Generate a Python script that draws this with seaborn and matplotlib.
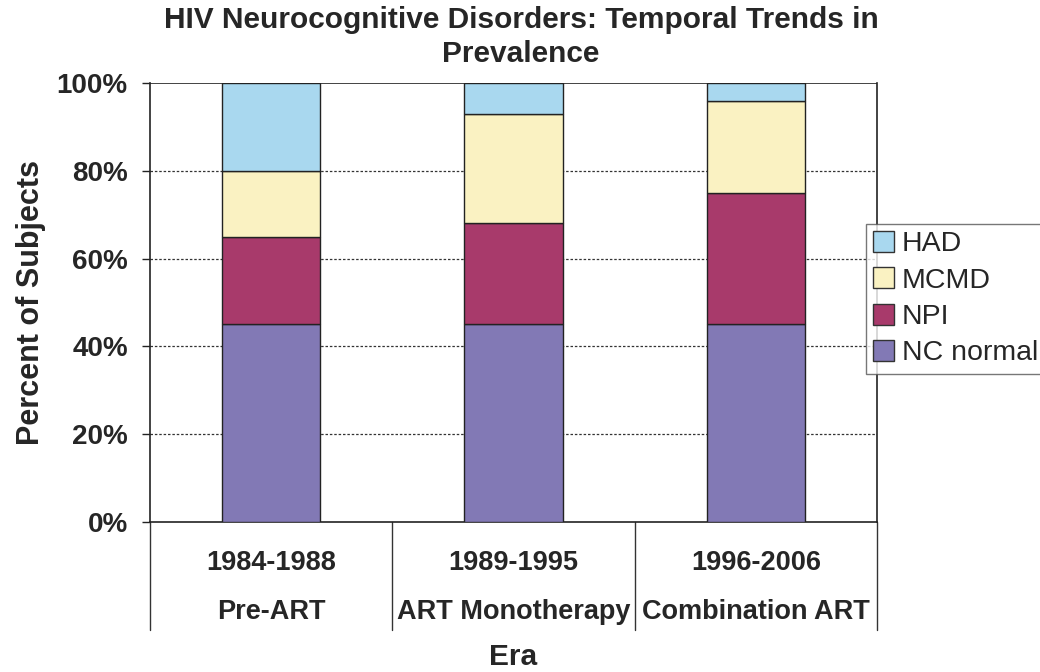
import matplotlib
matplotlib.use("Agg")
import matplotlib.pyplot as plt
import seaborn as sns
import pandas as pd
import numpy as np
from matplotlib.patches import Patch

years = ["1984-1988", "1989-1995", "1996-2006"]
eras = ["Pre-ART", "ART Monotherapy", "Combination ART"]
nc_normal = [45, 45, 45]
npi = [20, 23, 30]
mcmd = [15, 25, 21]
had = [20, 7, 4]

series = [("NC normal", nc_normal, "#8279B5"),
          ("NPI", npi, "#A83A6B"),
          ("MCMD", mcmd, "#FAF2C2"),
          ("HAD", had, "#A9D8EF")]

sns.set_theme(style="white")
plt.rcParams['font.family'] = ["Liberation Sans", "DejaVu Sans"]

fig = plt.figure(figsize=(10.4, 6.72), dpi=100)
ax = fig.add_axes([150/1040, 1-522/672, (877-150)/1040, (522-83)/672])

bottom = np.zeros(3)
for name, vals, col in series:
    df = pd.DataFrame({"year": years, "val": vals})
    sns.barplot(data=df, x="year", y="val", color=col, bottom=bottom, width=0.405,
                edgecolor="#222222", linewidth=1.0, ax=ax, zorder=3, saturation=1)
    bottom = bottom + np.array(vals)

ax.set_ylim(0, 100)
ax.set_xlim(-0.5, 2.5)
ax.set_yticks([0, 20, 40, 60, 80, 100])
ax.set_yticklabels([f"{v}%" for v in [0, 20, 40, 60, 80, 100]], fontsize=20, fontweight="bold")
for v in [20, 40, 60, 80]:
    ax.axhline(v, color="#333333", linestyle=(0, (2, 1.5)), linewidth=0.9, zorder=1)
ax.axhline(100, color="#222222", linewidth=1.2, zorder=1)
ax.tick_params(axis="y", length=6, width=1, color="#222222", pad=10, left=True)
ax.tick_params(axis="x", length=0, pad=20)
ax.set_xticks(range(3))
ax.set_xticklabels(years, fontsize=19.5, fontweight="bold")
for s in ["left", "right", "bottom"]:
    ax.spines[s].set_color("#222222")
    ax.spines[s].set_linewidth(1.2)
ax.spines["top"].set_visible(False)

trans = ax.get_xaxis_transform()
for xb in [-0.5, 0.5, 1.5, 2.5]:
    ax.plot([xb, xb], [0, -108/439], transform=trans, color="#333333", linewidth=1.0, clip_on=False)
for i, e in enumerate(eras):
    ax.text(i, -90/439, e, transform=trans, ha="center", va="center", fontsize=19.5, fontweight="bold")

ax.set_xlabel("Era", fontsize=21.5, fontweight="bold")
ax.xaxis.set_label_coords(0.5, -121/439)
ax.set_ylabel("Percent of Subjects", fontsize=22, fontweight="bold")
ax.yaxis.set_label_coords(-104/727, 0.5)

fig.text(521/1040, 1-37/672, "HIV Neurocognitive Disorders: Temporal Trends in\nPrevalence",
         ha="center", va="center", fontsize=21.5, fontweight="bold", linespacing=1.3)

handles = [Patch(facecolor=c, edgecolor="#333333", label=n) for n, v, c in series[::-1]]
leg = fig.legend(handles=handles, loc="upper left", bbox_to_anchor=(866/1040, 1-224/672),
                 fontsize=20.5, frameon=True, fancybox=False, borderpad=0.25, labelspacing=0.35,
                 handlelength=0.75, handleheight=0.75, handletextpad=0.25, borderaxespad=0)
leg.get_frame().set_edgecolor("#555555")
leg.get_frame().set_linewidth(1.0)

fig.savefig("out.png", dpi=100, facecolor="white")
